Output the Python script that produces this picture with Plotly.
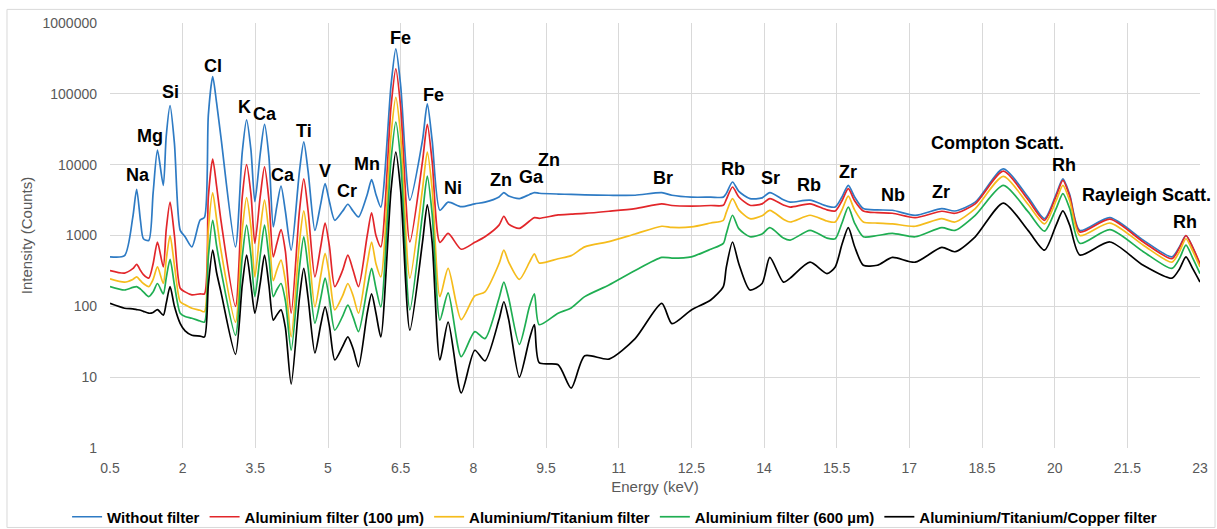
import plotly.graph_objects as go

# ---------------- data ----------------
energy_kev = [0.5, 0.8, 0.97, 1.05, 1.13, 1.19, 1.3, 1.39, 1.48, 1.6,
              1.66, 1.74, 1.83, 1.95, 2.05, 2.19, 2.36, 2.45, 2.53, 2.62,
              2.70, 2.79, 3.09, 3.23, 3.32, 3.41, 3.49, 3.60, 3.69, 3.78,
              3.87, 3.94, 4.03, 4.12, 4.24, 4.41, 4.50, 4.59, 4.73, 4.85,
              4.94, 5.03, 5.14, 5.30, 5.41, 5.52, 5.63, 5.81, 5.90, 5.99,
              6.09, 6.30, 6.40, 6.50, 6.69, 6.95, 7.05, 7.15, 7.31, 7.48,
              7.75, 8.03, 8.24, 8.53, 8.63, 8.73, 8.95, 9.16, 9.26, 9.36,
              9.75, 10.02, 10.3, 10.8, 11.34, 11.89, 12.1, 12.5, 12.9, 13.16,
              13.22, 13.35, 13.48, 13.71, 13.96, 14.12, 14.4, 14.54, 14.95, 15.3,
              15.47, 15.61, 15.74, 15.87, 16.05, 16.34, 16.65, 17.12, 17.67, 17.94,
              18.36, 18.94, 19.45, 19.79, 20.03, 20.17, 20.31, 20.52, 21.14, 21.83,
              22.42, 22.58, 22.71, 22.85, 23.0]

without_filter = [500, 520, 1800, 4500, 1600, 900, 850, 4000, 16000, 5100,
                  25000, 68000, 20000, 1180, 960, 690, 1650, 1800, 50000, 175000,
                  75000, 24500, 690, 15000, 43000, 16000, 3000, 14000, 37000, 13000,
                  1320, 2500, 5000, 2200, 620, 8000, 21000, 8000, 1180, 2800,
                  5400, 3000, 1640, 2200, 2760, 2200, 1830, 3800, 6150, 3800,
                  2520, 130000, 430000, 130000, 3150, 22000, 72000, 22000, 2270, 2960,
                  2550, 2800, 2960, 3500, 4030, 3600, 3320, 3800, 4030, 3950,
                  3850, 3800, 3750, 3700, 3700, 4030, 3700, 3480, 3480, 3480,
                  3900, 5690, 4200, 3320, 3400, 4030, 3200, 2960, 3150, 2600,
                  2520, 3500, 5100, 3500, 2400, 2300, 2270, 1930, 2400, 2220,
                  2960, 8700, 3480, 1730, 3800, 6320, 3800, 1180, 1790, 860,
                  500, 700, 1000, 680, 380]

al_100um = [320, 295, 340, 390, 320, 280, 250, 400, 810, 360,
            1200, 2960, 1000, 180, 160, 145, 150, 150, 3500, 12000,
            5000, 1640, 100, 3500, 10000, 3800, 775, 3500, 9300, 3200,
            500, 750, 1210, 600, 80, 2200, 6300, 2200, 260, 700,
            1500, 700, 190, 320, 530, 320, 190, 1000, 2090, 1000,
            690, 65000, 225000, 65000, 810, 11000, 37000, 11000, 800, 1070,
            640, 800, 960, 1400, 1870, 1450, 1260, 1600, 1790, 1750,
            1950, 2000, 2050, 2200, 2400, 2800, 2650, 2600, 2650, 2670,
            3200, 4840, 3500, 2670, 2800, 3320, 2700, 2520, 2800, 2300,
            2220, 3100, 4600, 3100, 2220, 2100, 2060, 1790, 2200, 2060,
            2800, 8100, 3200, 1640, 3600, 6000, 3600, 1120, 1700, 810,
            470, 680, 1000, 680, 400]

al_ti = [245, 220, 240, 260, 230, 210, 190, 240, 360, 210,
         450, 1000, 380, 116, 105, 94, 88, 84, 1200, 4000,
         1700, 620, 60, 1200, 3430, 1300, 260, 1200, 3150, 1100,
         230, 320, 450, 230, 37, 800, 2220, 800, 98, 270,
         560, 270, 89, 140, 210, 140, 80, 400, 810, 400,
         260, 26000, 89000, 26000, 250, 4500, 15000, 4500, 137, 343,
         65, 140, 160, 400, 620, 420, 240, 420, 550, 410,
         470, 520, 690, 820, 1050, 1350, 1300, 1320, 1500, 1640,
         2100, 3320, 2300, 1730, 1900, 2270, 1700, 1550, 1930, 1600,
         1550, 2300, 3590, 2300, 1550, 1500, 1460, 1350, 1730, 1550,
         2400, 6850, 2760, 1460, 3100, 5100, 3100, 1000, 1500, 730,
         420, 600, 900, 600, 360]

al_600um = [190, 170, 185, 190, 175, 160, 137, 160, 210, 150,
            250, 460, 200, 80, 72, 68, 62, 60, 500, 1640,
            720, 325, 39, 500, 1400, 520, 137, 520, 1400, 500,
            137, 170, 210, 120, 24, 350, 960, 350, 58, 130,
            250, 125, 46, 72, 104, 70, 44, 180, 343, 180,
            98, 11500, 40000, 11500, 89, 2000, 6900, 2000, 64, 155,
            19.5, 44, 35, 130, 220, 130, 29, 100, 150, 55,
            80, 95, 137, 200, 320, 490, 480, 500, 640, 775,
            1050, 1930, 1250, 960, 1050, 1290, 920, 860, 1180, 920,
            900, 1500, 2520, 1500, 960, 1000, 1070, 960, 1290, 1180,
            1930, 5100, 2170, 1150, 2400, 3900, 2400, 775, 1210, 590,
            343, 480, 730, 480, 290]

al_ti_cu = [110, 94, 92, 90, 88, 85, 80, 82, 90, 75,
            110, 190, 100, 57, 45, 39, 38, 37, 200, 620,
            300, 160, 21, 200, 530, 200, 80, 210, 530, 200,
            64, 75, 89, 50, 8, 130, 343, 130, 22, 55,
            98, 52, 17.5, 27, 37, 25, 14, 80, 150, 80,
            37, 4300, 15000, 4300, 46, 800, 2700, 800, 17.5, 60,
            6, 24, 17, 65, 116, 65, 10, 35, 55, 16,
            15, 7, 20, 18, 35, 110, 57, 89, 123, 190,
            350, 810, 400, 170, 210, 490, 220, 250, 420, 290,
            360, 750, 1290, 700, 380, 380, 490, 420, 680, 590,
            960, 2870, 1180, 620, 1400, 2220, 1400, 530, 810, 380,
            250, 340, 500, 340, 220]

series_names = ["Without filter", "Aluminium filter (100 µm)", "Aluminium/Titanium filter",
                "Aluminium filter (600 µm)", "Aluminium/Titanium/Copper filter"]
series_values = [without_filter, al_100um, al_ti, al_600um, al_ti_cu]
series_colors = ["#2E7BC4", "#E2262A", "#F5BC1C", "#1FAE52", "#000000"]

x_tick_vals = [0.5, 2, 3.5, 5, 6.5, 8, 9.5, 11, 12.5, 14, 15.5, 17, 18.5, 20, 21.5, 23]
x_tick_text = ["0.5", "2", "3.5", "5", "6.5", "8", "9.5", "11", "12.5", "14", "15.5", "17",
               "18.5", "20", "21.5", "23"]
y_tick_vals = [1, 10, 100, 1000, 10000, 100000, 1000000]
y_tick_text = ["1", "10", "100", "1000", "10000", "100000", "1000000"]

peak_labels = ["Na", "Mg", "Si", "Cl", "K", "Ca", "Ca", "Ti", "V", "Cr", "Mn", "Fe", "Fe", "Ni",
               "Zn", "Ga", "Zn", "Br", "Rb", "Sr", "Rb", "Zr", "Nb", "Zr", "Compton Scatt.", "Rh",
               "Rayleigh Scatt.", "Rh"]
peak_label_energy = [1.08, 1.33, 1.74, 2.63, 3.27, 3.70, 4.07, 4.50, 4.94, 5.39, 5.81, 6.49, 7.17,
                     7.58, 8.58, 9.20, 9.56, 11.92, 13.36, 14.14, 14.93, 15.74, 16.66, 17.66, 18.83,
                     20.19, 21.89, 22.69]
peak_label_log_counts = [3.85, 4.40, 5.02, 5.40, 4.81, 4.72, 3.86, 4.48, 3.905, 3.624, 4.004, 5.793,
                         4.99, 3.666, 3.779, 3.82, 4.067, 3.807, 3.934, 3.807, 3.708, 3.892, 3.568,
                         3.617, 4.307, 3.99, 3.568, 3.187]

# ---------------- figure ----------------
FONT = "Liberation Sans, Arial, sans-serif"
fig = go.Figure()
for name, vals, col in zip(series_names, series_values, series_colors):
    fig.add_trace(go.Scatter(
        x=energy_kev, y=vals, name=name, mode="lines",
        line=dict(color=col, width=1.7, shape="spline", smoothing=0.7),
    ))

for txt, ex, ly in zip(peak_labels, peak_label_energy, peak_label_log_counts):
    fig.add_annotation(x=ex, y=ly, text=txt, showarrow=False,
                       font=dict(family=FONT, size=18, color="#000000", weight="bold"))

fig.add_shape(type="rect", xref="paper", yref="paper",
              x0=-0.0945, x1=1.0138, y0=-0.187, y1=1.032,
              line=dict(color="#D9D9D9", width=1), layer="below")

fig.update_layout(
    width=1217, height=529,
    margin=dict(l=110, r=17, t=23, b=81),
    paper_bgcolor="white", plot_bgcolor="white",
    font=dict(family=FONT, color="#595959", size=14),
    showlegend=True,
    legend=dict(orientation="h", xref="container", yref="container",
                x=0.505, xanchor="center", y=0.0227, yanchor="middle",
                font=dict(family=FONT, size=15, color="#000000", weight="bold"),
                itemwidth=30, tracegroupgap=0, bgcolor="rgba(0,0,0,0)"),
    xaxis=dict(range=[0.5, 23], tickvals=x_tick_vals, ticktext=x_tick_text,
               showgrid=True, gridcolor="#D9D9D9", gridwidth=1, zeroline=False,
               showline=False, ticks="", ticklabelstandoff=10, automargin=False,
               tickfont=dict(size=14, color="#595959"),
               title=dict(text="Energy (keV)", font=dict(size=15, color="#595959"), standoff=6)),
    yaxis=dict(type="log", range=[0, 6], tickvals=y_tick_vals, ticktext=y_tick_text,
               showgrid=True, gridcolor="#D9D9D9", gridwidth=1, zeroline=False,
               showline=False, ticks="", ticklabelstandoff=12, automargin=False,
               tickfont=dict(size=14, color="#595959"),
               title=dict(text="Intensity (Counts)", font=dict(size=15, color="#595959"), standoff=6)),
)

fig.write_html("out.html", config={"displayModeBar": False},
               post_script="document.body.style.margin='0';")
